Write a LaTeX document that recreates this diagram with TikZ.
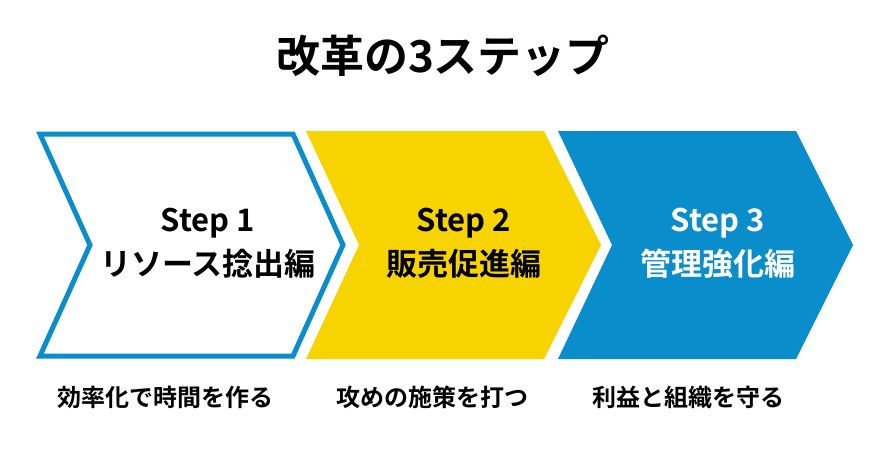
\documentclass[tikz,border=0pt]{standalone}
\usepackage{fontspec}
\setmainfont{Noto Sans CJK JP}[BoldFont={* Bold}]
\definecolor{cblue}{HTML}{0A8DCB}
\definecolor{cyel}{HTML}{F7D400}
\begin{document}
\begin{tikzpicture}[x=1pt,y=-1pt,
  lbl/.style={font=\bfseries\fontsize{31}{44}\selectfont,align=center},
  sub/.style={font=\bfseries\fontsize{24}{28}\selectfont}]
\useasboundingbox[fill=white] (0,0) rectangle (893,461);
\node[font=\bfseries\fontsize{44}{50}\selectfont] (title) at (443,56) {改革の3ステップ};
\draw[cblue,line width=5pt,fill=white,line join=miter] (40,134) -- (293,134) -- (343,245) -- (293,356) -- (40,356) -- (90,245) -- cycle;
\fill[cyel] (306,131) -- (544,131) -- (601,245) -- (544,359) -- (306,359) -- (359,245) -- cycle;
\fill[cblue] (558,131) -- (796,131) -- (853,245) -- (796,359) -- (558,359) -- (612,245) -- cycle;
\node[lbl] (s1) at (208,243) {Step 1\\リソース捻出編};
\node[lbl] (s2) at (464,243) {Step 2\\販売促進編};
\node[lbl,text=white] (s3) at (718,243) {Step 3\\管理強化編};
\node[sub] (d1) at (165,397) {効率化で時間を作る};
\node[sub] (d2) at (432,397) {攻めの施策を打つ};
\node[sub] (d3) at (688,397) {利益と組織を守る};
\end{tikzpicture}
\end{document}
